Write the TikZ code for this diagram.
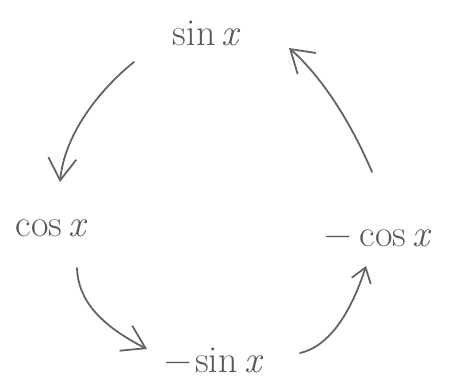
\documentclass[tikz,border=0pt]{standalone}
\usetikzlibrary{arrows.meta}
\definecolor{ink}{RGB}{88,88,88}
\definecolor{pencil}{RGB}{100,100,100}
\begin{document}
\begin{tikzpicture}[x=1pt,y=-1pt,
  term/.style={text=ink,anchor=base,inner sep=0pt,font=\fontsize{38}{42}\selectfont},
  arr/.style={draw=pencil,line width=1.8pt,line cap=round,line join=round},
  bigtip/.style={-{Straight Barb[length=22pt,width=28pt,line width=1.8pt]}},
  smalltip/.style={-{Straight Barb[length=14pt,width=20pt,line width=1.8pt]}}]
  \useasboundingbox (0,0) rectangle (450,383);

  % the four derivatives placed round a cycle
  \node[term] (sin)  at (207,45)  {sin\,\textit{x}};
  \node[term] (cos)  at (52,236)  {cos\,\textit{x}};
  \node[term] (mcos) at (378,246) {−\hspace{8pt}cos\,\textit{x}};
  \node[term] (msin) at (214,372) {−\hspace{3pt}sin\,\textit{x}};

  % differentiation steps
  \draw[arr,bigtip] ([shift={(-73,17)}]sin.base)
     .. controls +(-29,23) and +(5,-52) .. ([shift={(8,-54)}]cos.base);
  \draw[arr,bigtip] ([shift={(25,32)}]cos.base)
     .. controls +(1,32) and +(-47,-24) .. ([shift={(-67,-23)}]msin.base);
  \draw[arr,smalltip] ([shift={(86,-19)}]msin.base)
     .. controls +(35,-8) and +(-11,34) .. ([shift={(-12,20)}]mcos.base);
  \draw[arr,bigtip] ([shift={(-6,-74)}]mcos.base)
     .. controls +(-22,-52) and +(31,27) .. ([shift={(82,3)}]sin.base);
\end{tikzpicture}
\end{document}
